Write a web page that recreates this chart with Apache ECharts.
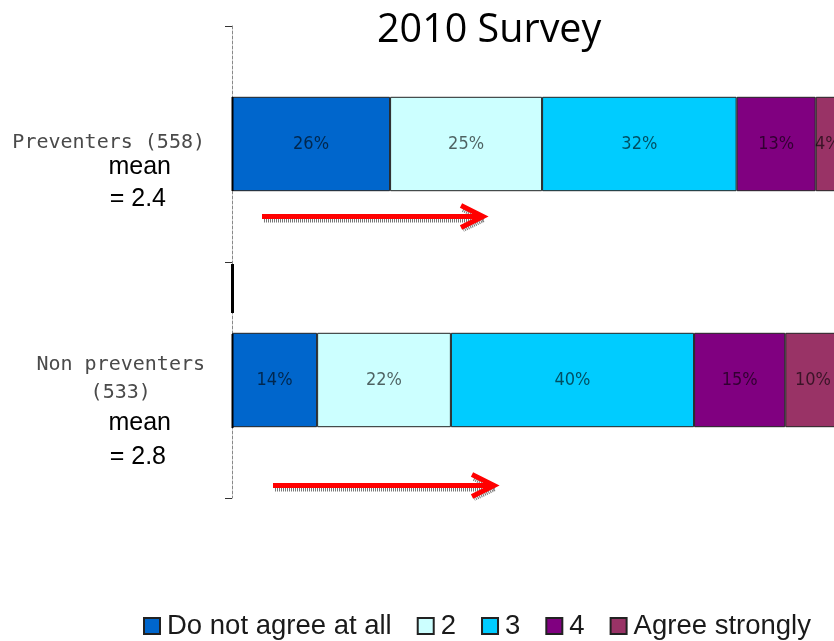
<!DOCTYPE html>
<html>
<head>
<meta charset="utf-8">
<script src="https://cdn.jsdelivr.net/npm/echarts@6/dist/echarts.min.js"></script>
<style>html,body{margin:0;padding:0;background:#fff;overflow:hidden}#c{width:840px;height:641px}</style>
</head>
<body>
<div id="c"></div>
<script>
const categories = ['Preventers (558)', 'Non preventers\n(533)'];
const means = ['2.4', '2.8'];
const seriesNames = ['Do not agree at all', '2', '3', '4', 'Agree strongly'];
const notAgree = [26, 14];
const two = [25, 22];
const three = [32, 40];
const four = [13, 15];
const agreeStrongly = [4, 10];
const seriesValues = [notAgree, two, three, four, agreeStrongly];
const colors = ['#0066CC', '#CCFFFF', '#00CCFF', '#800080', '#993366'];

const chart = echarts.init(document.getElementById('c'), null, {renderer: 'canvas'});

function arrow(y, x0, x1) {
  const tipX = x1, armX = x1 - 22;
  return [
    {type: 'polyline', shape: {points: [[x0 + 2, y + 4], [tipX - 6, y + 4]]},
      style: {stroke: '#777', lineWidth: 4, lineDash: [1, 1], fill: null}, z: 10},
    {type: 'polyline', shape: {points: [[armX + 2, y - 7], [tipX + 1, y + 3], [armX + 2, y + 13]]},
      style: {stroke: '#777', lineWidth: 5, lineDash: [1, 1], fill: null}, z: 10},
    {type: 'polyline', shape: {points: [[x0, y], [tipX - 4, y]]},
      style: {stroke: '#FF0000', lineWidth: 5, fill: null}, z: 11},
    {type: 'polyline', shape: {points: [[armX, y - 11], [tipX, y], [armX, y + 11]]},
      style: {stroke: '#FF0000', lineWidth: 5, fill: null, lineJoin: 'miter'}, z: 11}
  ];
}

const option = {
  animation: false,
  backgroundColor: '#fff',
  title: {
    text: '2010 Survey',
    left: 377, top: 11, padding: 0,
    textStyle: {fontFamily: 'Open Sans', fontSize: 39.5, fontWeight: 'normal', color: '#000'}
  },
  legend: {
    data: seriesNames,
    left: 143, top: 612, padding: 0,
    itemWidth: 16, itemHeight: 16, itemGap: 25,
    icon: 'rect',
    textStyle: {fontFamily: 'Liberation Sans', fontSize: 27.5, color: '#1a1a1a', padding: [0, 0, 0, 2]}
  },
  grid: {left: 232, top: 26, width: 608, height: 472, containLabel: false},
  xAxis: {type: 'value', min: 0, max: 100, show: false},
  yAxis: {
    type: 'category',
    data: categories,
    inverse: true,
    axisLine: {show: true, lineStyle: {color: '#888', type: [3, 2], width: 1}},
    axisTick: {show: true, length: 7, lineStyle: {color: '#333', width: 1}},
    axisLabel: {
      interval: 0,
      margin: 27,
      formatter: function (value, index) {
        const k = index === 0 ? 'a' : 'b';
        const lines = value.split('\n').map(l => '{n' + k + '|' + l + '}').join('\n');
        return '{s' + k + '| }\n' + lines + '\n{m' + k + '|mean}\n{v' + k + '|= ' + means[index] + '}';
      },
      rich: {
        sa: {lineHeight: 62, fontSize: 10},
        sb: {lineHeight: 66, fontSize: 10},
        na: {fontFamily: 'DejaVu Sans Mono', fontSize: 20, color: '#4a4a4a', lineHeight: 24, align: 'center'},
        nb: {fontFamily: 'DejaVu Sans Mono', fontSize: 20, color: '#4a4a4a', lineHeight: 28, align: 'center'},
        ma: {fontFamily: 'Liberation Sans', fontSize: 25, color: '#000', lineHeight: 24, align: 'right', padding: [0, 34, 0, 0]},
        va: {fontFamily: 'Liberation Sans', fontSize: 25, color: '#000', lineHeight: 40, align: 'right', padding: [0, 39, 0, 0]},
        mb: {fontFamily: 'Liberation Sans', fontSize: 25, color: '#000', lineHeight: 32, align: 'right', padding: [0, 34, 0, 0]},
        vb: {fontFamily: 'Liberation Sans', fontSize: 25, color: '#000', lineHeight: 36, align: 'right', padding: [0, 39, 0, 0]}
      }
    }
  },
  series: seriesNames.map((name, i) => ({
    name: name,
    type: 'bar',
    stack: 'total',
    barWidth: '40%',
    data: seriesValues[i],
    itemStyle: {color: colors[i], borderColor: '#222', borderWidth: 1},
    label: {
      show: true, position: 'inside', formatter: '{c}%',
      fontFamily: 'Liberation Sans Narrow, DejaVu Sans Condensed, sans-serif',
      fontSize: 18, color: 'rgba(0,0,0,0.62)'
    }
  })),
  graphic: [
    {type: 'rect', shape: {x: 231, y: 264, width: 3, height: 49}, style: {fill: '#000'}, z: 10},
    {type: 'rect', shape: {x: 231.5, y: 97, width: 2, height: 94}, style: {fill: '#000'}, z: 10},
    {type: 'rect', shape: {x: 231.5, y: 334, width: 2, height: 94}, style: {fill: '#000'}, z: 10}
  ].concat(arrow(216.5, 262, 483), arrow(485.5, 273, 494))
};
chart.setOption(option);
</script>
</body>
</html>
